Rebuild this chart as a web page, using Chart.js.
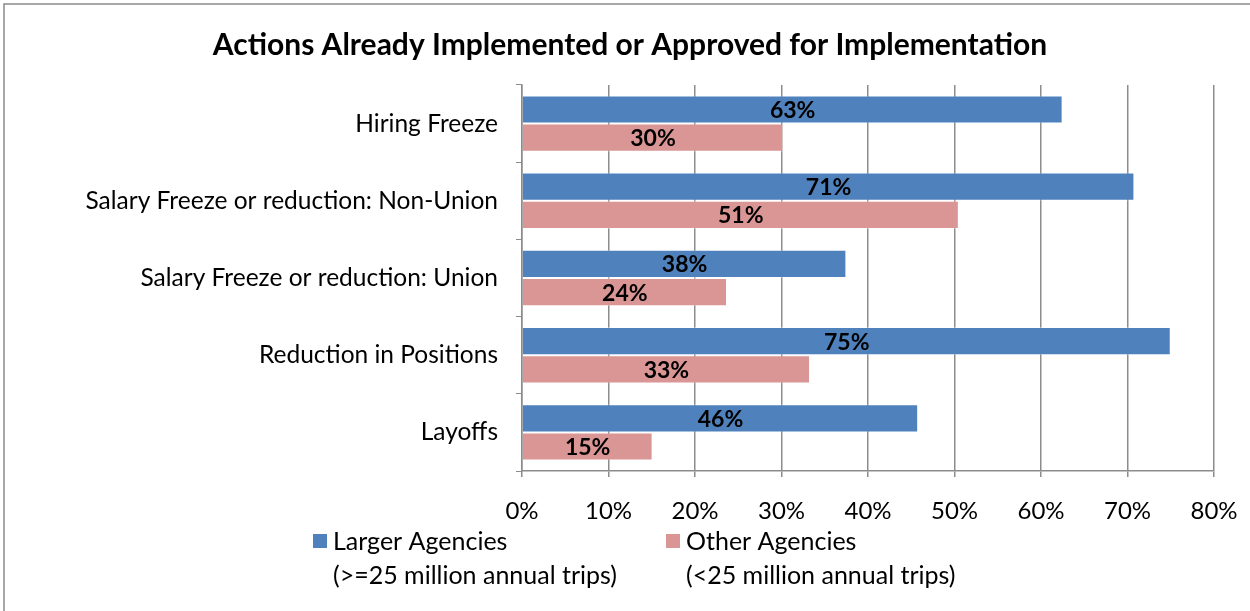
<!DOCTYPE html>
<html>
<head>
<meta charset="utf-8">
<script src="https://cdn.jsdelivr.net/npm/chart.js@4.4.1/dist/chart.umd.min.js"></script>
<style>
  html, body { margin: 0; padding: 0; background: #fff; }
  #wrap { position: relative; width: 1250px; height: 611px; }
</style>
</head>
<body>
<div id="wrap"><canvas id="c" width="1250" height="611"></canvas></div>
<script>
const titleText = 'Actions Already Implemented or Approved for Implementation';
const categories = ['Hiring Freeze', 'Salary Freeze or reduction: Non-Union', 'Salary Freeze or reduction: Union', 'Reduction in Positions', 'Layoffs'];
const largerAgencies = [62.5, 70.8, 37.5, 75.0, 45.8];
const otherAgencies = [30.2, 50.5, 23.7, 33.3, 15.1];
const seriesNames = ['Larger Agencies', 'Other Agencies'];
const seriesNotes = ['(>=25 million annual trips)', '(<25 million annual trips)'];
const xTicks = [0, 10, 20, 30, 40, 50, 60, 70, 80];

const FONT = 'Lato, "Open Sans", sans-serif';
const BLUE = '#4F81BD';
const PINK = '#D99694';
const GRID = '#8c8c8c';

const valueLabels = {
  id: 'valueLabels',
  afterDatasetsDraw(chart) {
    const ctx = chart.ctx;
    ctx.save();
    ctx.font = 'bold 23px ' + FONT;
    ctx.fillStyle = '#000';
    ctx.textAlign = 'center';
    ctx.textBaseline = 'middle';
    chart.data.datasets.forEach((ds, di) => {
      const meta = chart.getDatasetMeta(di);
      meta.data.forEach((bar, i) => {
        const cx = (bar.x + bar.base) / 2;
        ctx.fillText(Math.round(ds.data[i]) + '%', cx, bar.y + 1);
      });
    });
    ctx.restore();
  }
};

const frameAndLegend = {
  id: 'frameAndLegend',
  afterDraw(chart) {
    const ctx = chart.ctx;
    ctx.save();
    ctx.strokeStyle = '#8a8a8a';
    ctx.lineWidth = 1.5;
    ctx.beginPath();
    ctx.moveTo(4, 611);
    ctx.lineTo(4, 4);
    ctx.lineTo(1250, 4);
    ctx.stroke();
    const xs = [313, 666];
    const colors = [BLUE, PINK];
    ctx.font = '25px ' + FONT;
    ctx.textAlign = 'left';
    ctx.textBaseline = 'middle';
    for (let k = 0; k < 2; k++) {
      ctx.fillStyle = colors[k];
      ctx.fillRect(xs[k], 534, 14, 14);
      ctx.fillStyle = '#000';
      ctx.fillText(seriesNames[k], xs[k] + 20, 542);
      ctx.fillText(seriesNotes[k], xs[k] + 20, 576);
    }
    ctx.restore();
  }
};

new Chart(document.getElementById('c'), {
  type: 'bar',
  data: {
    labels: categories,
    datasets: [
      { label: seriesNames[0], data: largerAgencies, backgroundColor: BLUE, borderColor: 'rgba(255,255,255,0.35)', borderWidth: 1, categoryPercentage: 0.73, barPercentage: 1.0 },
      { label: seriesNames[1], data: otherAgencies, backgroundColor: PINK, borderColor: 'rgba(255,255,255,0.35)', borderWidth: 1, categoryPercentage: 0.73, barPercentage: 1.0 }
    ]
  },
  options: {
    indexAxis: 'y',
    responsive: false,
    animation: false,
    layout: { padding: { top: 0, left: 46, right: 36, bottom: 70 } },
    plugins: {
      legend: { display: false },
      tooltip: { enabled: false },
      title: {
        display: true,
        text: titleText,
        color: '#000',
        font: { family: FONT, size: 30, weight: 'bold', lineHeight: 1.2 },
        padding: { top: 27, bottom: 22 }
      }
    },
    scales: {
      x: {
        min: 0, max: 80,
        afterBuildTicks(scale) { scale.ticks = xTicks.map(v => ({ value: v })); },
        afterFit(scale) { scale.height = 70; scale.paddingRight = 0; scale.paddingLeft = 0; },
        grid: { color: GRID, lineWidth: 1.5, drawTicks: true, tickLength: 6, tickColor: GRID },
        border: { display: true, color: GRID, width: 1.5 },
        ticks: { color: '#000', font: { family: FONT, size: 24 }, padding: 20, callback: v => v + '%' }
      },
      y: {
        afterFit(scale) { scale.width = 476; scale.paddingTop = 0; scale.paddingBottom = 0; },
        grid: { display: true, drawOnChartArea: false, drawTicks: true, tickLength: 6, color: GRID, tickColor: GRID, offset: true },
        border: { display: true, color: GRID, width: 1.5 },
        ticks: { color: '#000', font: { family: FONT, size: 24.5 }, padding: 18 }
      }
    }
  },
  plugins: [valueLabels, frameAndLegend]
});
</script>
</body>
</html>
